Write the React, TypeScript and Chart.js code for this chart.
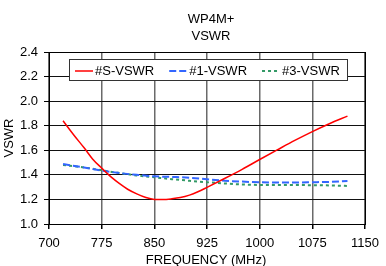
import React, { useEffect, useRef } from "react";
import { Chart, registerables } from "chart.js";

Chart.register(...registerables);

const titleLines = ["WP4M+", "VSWR"];
const xTitle = "FREQUENCY (MHz)";
const yTitle = "VSWR";

const redFreq = [720, 735, 750, 762, 775, 790, 800, 812, 825, 838, 850, 862, 875, 887, 900, 912, 925, 950, 975, 1000, 1025, 1050, 1075, 1100, 1125];
const redVswr = [1.84, 1.727, 1.62, 1.53, 1.455, 1.375, 1.33, 1.283, 1.245, 1.215, 1.2, 1.199, 1.205, 1.215, 1.235, 1.262, 1.298, 1.37, 1.445, 1.525, 1.603, 1.68, 1.752, 1.818, 1.878];

const cmpFreq = [720, 750, 775, 800, 825, 850, 875, 900, 925, 950, 975, 1000, 1025, 1050, 1075, 1100, 1125];
const blueVswr = [1.488, 1.46, 1.435, 1.415, 1.4, 1.388, 1.383, 1.377, 1.364, 1.352, 1.345, 1.34, 1.338, 1.338, 1.34, 1.343, 1.35];
const greenVswr = [1.48, 1.46, 1.437, 1.415, 1.395, 1.38, 1.365, 1.352, 1.34, 1.33, 1.322, 1.318, 1.317, 1.317, 1.316, 1.314, 1.31];

const seriesNames = ["#S-VSWR", "#1-VSWR", "#3-VSWR"];

const FONT = '"Liberation Sans", Arial, sans-serif';

const decorPlugin = {
  id: "decor",
  beforeDatasetsDraw(chart: any) {
    const { ctx, chartArea } = chart;
    ctx.save();
    ctx.strokeStyle = "#000";
    ctx.lineWidth = 1;
    ctx.strokeRect(
      Math.round(chartArea.left) + 0.5,
      Math.round(chartArea.top) + 0.5,
      Math.round(chartArea.right - chartArea.left),
      Math.round(chartArea.bottom - chartArea.top)
    );
    ctx.restore();
  },
  afterDraw(chart: any) {
    const { ctx, chartArea } = chart;
    ctx.save();
    ctx.fillStyle = "#000";
    ctx.font = `13px ${FONT}`;
    ctx.textAlign = "center";
    ctx.textBaseline = "middle";
    ctx.fillText(titleLines[0], 211, 19);
    ctx.fillText(titleLines[1], 211, 36);
    ctx.fillText(xTitle, 206, 260.5);
    ctx.save();
    ctx.translate(9.5, (chartArea.top + chartArea.bottom) / 2);
    ctx.rotate(-Math.PI / 2);
    ctx.fillText(yTitle, 0, 0);
    ctx.restore();

    // legend box
    const bx = 69.5, by = 59.5, bw = 278, bh = 21;
    ctx.fillStyle = "#fff";
    ctx.fillRect(bx, by, bw, bh);
    ctx.strokeStyle = "#333";
    ctx.lineWidth = 1;
    ctx.strokeRect(bx, by, bw, bh);
    let x = 75;
    const cy = 71;
    ctx.textAlign = "left";
    chart.data.datasets.forEach((ds: any) => {
      ctx.save();
      ctx.strokeStyle = ds.borderColor;
      ctx.lineWidth = ds.borderWidth;
      ctx.setLineDash(ds.borderDash || []);
      ctx.beginPath();
      ctx.moveTo(x, cy);
      ctx.lineTo(x + 18, cy);
      ctx.stroke();
      ctx.restore();
      ctx.fillStyle = "#000";
      ctx.fillText(ds.label, x + 20, cy + 0.5);
      x += 20 + ctx.measureText(ds.label).width + 15;
    });
    ctx.restore();
  },
};

export default function App() {
  const ref = useRef<HTMLCanvasElement>(null);
  useEffect(() => {
    const canvas = ref.current!;
    const chart = new Chart(canvas, {
      type: "line",
      data: {
        datasets: [
          {
            label: seriesNames[0],
            data: redFreq.map((f, i) => ({ x: f, y: redVswr[i] })),
            borderColor: "#ff0000",
            borderWidth: 1.5,
            pointRadius: 0,
            cubicInterpolationMode: "monotone",
            fill: false,
          },
          {
            label: seriesNames[1],
            data: cmpFreq.map((f, i) => ({ x: f, y: blueVswr[i] })),
            borderColor: "#3366ff",
            borderWidth: 2,
            borderDash: [7, 3],
            pointRadius: 0,
            cubicInterpolationMode: "monotone",
            fill: false,
          },
          {
            label: seriesNames[2],
            data: cmpFreq.map((f, i) => ({ x: f, y: greenVswr[i] })),
            borderColor: "#339966",
            borderWidth: 2,
            borderDash: [3, 3],
            pointRadius: 0,
            cubicInterpolationMode: "monotone",
            fill: false,
          },
        ],
      },
      options: {
        responsive: false,
        animation: false,
        layout: { padding: { top: 52, right: 14, left: 0, bottom: 0 } },
        plugins: {
          legend: { display: false },
          title: { display: false },
          tooltip: { enabled: false },
        },
        scales: {
          x: {
            type: "linear",
            min: 700,
            max: 1150,
            afterFit: (s: any) => {
              s.height = 42;
            },
            ticks: {
              stepSize: 75,
              color: "#000",
              font: { family: FONT, size: 13 },
              padding: 7,
              maxRotation: 0,
              callback: (v: any) => String(v),
            },
            grid: { color: "#6a6a6a", lineWidth: 1.5, tickLength: 5, tickColor: "#000" },
            border: { color: "#000", width: 1 },
          },
          y: {
            type: "linear",
            min: 1.0,
            max: 2.4,
            afterFit: (s: any) => {
              s.width = 49;
            },
            ticks: {
              stepSize: 0.2,
              color: "#000",
              font: { family: FONT, size: 13 },
              padding: 6,
              callback: (v: any) => Number(v).toFixed(1),
            },
            grid: { color: "#111", lineWidth: 1, tickLength: 5, tickColor: "#000" },
            border: { color: "#000", width: 1 },
          },
        },
      },
      plugins: [decorPlugin],
    } as any);
    return () => chart.destroy();
  }, []);
  return (
    <div style={{ position: "fixed", left: 0, top: 0, width: 386, height: 266, background: "#fff" }}>
      <canvas ref={ref} width={386} height={266} style={{ display: "block" }} />
    </div>
  );
}
